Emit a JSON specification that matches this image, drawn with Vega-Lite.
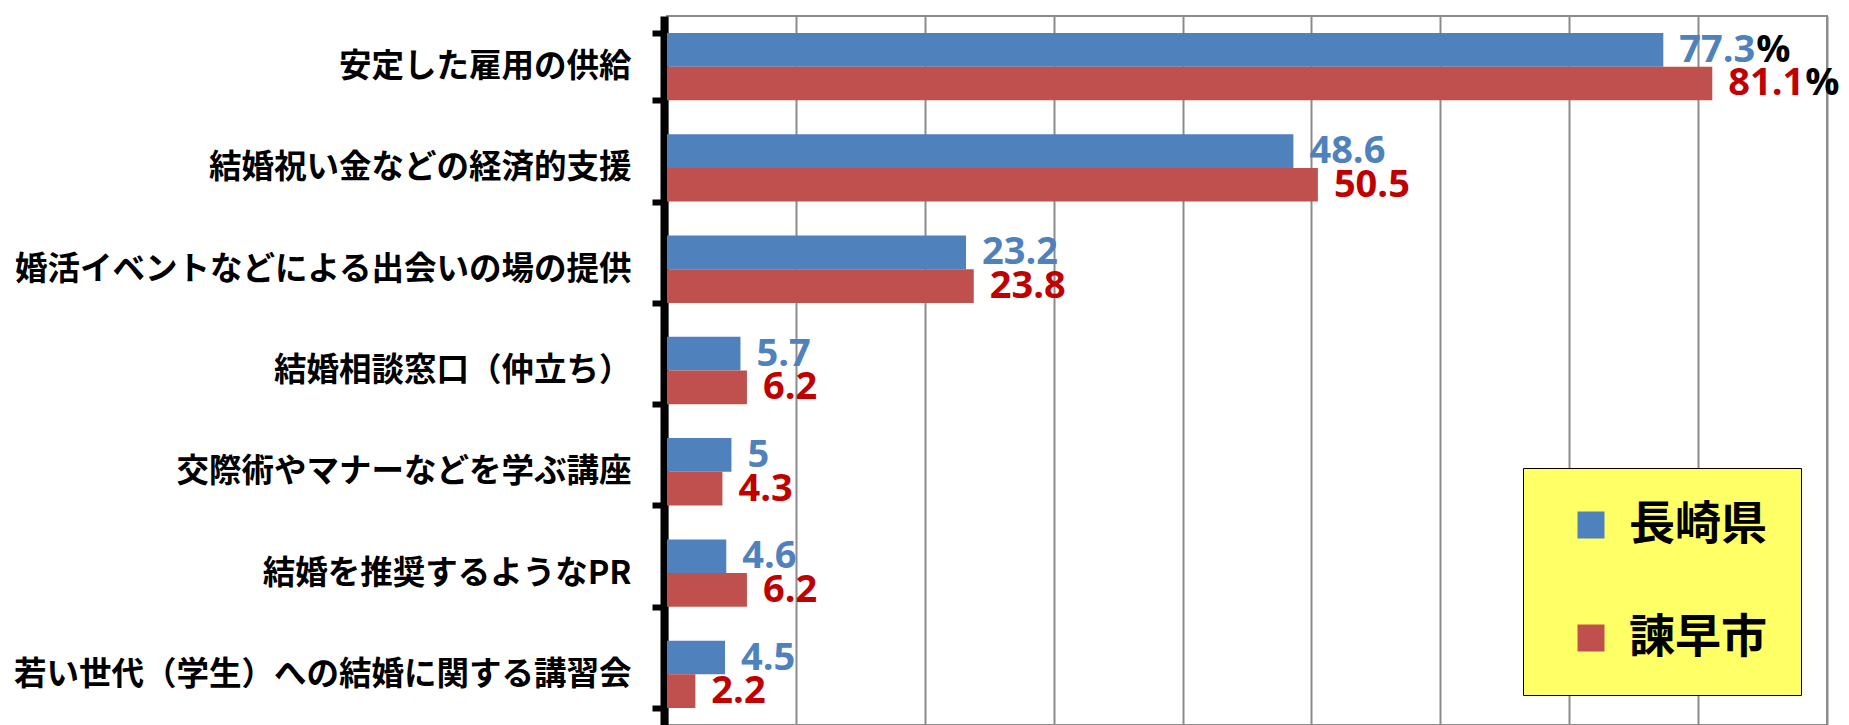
{
  "$schema": "https://vega.github.io/schema/vega-lite/v6.json",
  "autosize": {"type": "none"},
  "padding": {"left": 667, "top": 16, "right": 22, "bottom": 0},
  "width": 1160,
  "height": 709,
  "background": "white",
  "config": {
    "view": {"stroke": "#8c8c8c", "strokeWidth": 2},
    "font": "Noto Sans CJK JP"
  },
  "data": {
    "values": [
      {"item": "安定した雇用の供給", "region": "長崎県", "value": 77.3},
      {"item": "安定した雇用の供給", "region": "諫早市", "value": 81.1},
      {"item": "結婚祝い金などの経済的支援", "region": "長崎県", "value": 48.6},
      {"item": "結婚祝い金などの経済的支援", "region": "諫早市", "value": 50.5},
      {"item": "婚活イベントなどによる出会いの場の提供", "region": "長崎県", "value": 23.2},
      {"item": "婚活イベントなどによる出会いの場の提供", "region": "諫早市", "value": 23.8},
      {"item": "結婚相談窓口（仲立ち）", "region": "長崎県", "value": 5.7},
      {"item": "結婚相談窓口（仲立ち）", "region": "諫早市", "value": 6.2},
      {"item": "交際術やマナーなどを学ぶ講座", "region": "長崎県", "value": 5},
      {"item": "交際術やマナーなどを学ぶ講座", "region": "諫早市", "value": 4.3},
      {"item": "結婚を推奨するようなPR", "region": "長崎県", "value": 4.6},
      {"item": "結婚を推奨するようなPR", "region": "諫早市", "value": 6.2},
      {"item": "若い世代（学生）への結婚に関する講習会", "region": "長崎県", "value": 4.5},
      {"item": "若い世代（学生）への結婚に関する講習会", "region": "諫早市", "value": 2.2}
    ]
  },
  "encoding": {
    "y": {
      "field": "item",
      "type": "nominal",
      "sort": null,
      "title": null,
      "scale": {"paddingInner": 0.335, "paddingOuter": 0.1675},
      "axis": {
        "domainColor": "black",
        "domainWidth": 8,
        "offset": 3,
        "ticks": true,
        "tickBand": "extent",
        "tickColor": "black",
        "tickWidth": 6,
        "tickSize": 12,
        "labelPadding": 21,
        "labelFont": "Noto Sans CJK JP",
        "labelFontWeight": "bold",
        "labelFontSize": 32.5,
        "labelColor": "black",
        "labelLimit": 0,
        "grid": false
      }
    },
    "yOffset": {"field": "region", "type": "nominal", "sort": ["長崎県", "諫早市"], "scale": {"paddingInner": 0, "paddingOuter": 0}},
    "x": {
      "field": "value",
      "type": "quantitative",
      "title": null,
      "scale": {"domain": [0, 90], "nice": false},
      "axis": {
        "values": [0, 10, 20, 30, 40, 50, 60, 70, 80, 90],
        "labels": false,
        "ticks": false,
        "domain": false,
        "grid": true,
        "gridColor": "#8c8c8c",
        "gridWidth": 2
      }
    }
  },
  "layer": [
    {
      "mark": {"type": "bar"},
      "encoding": {
        "color": {
          "field": "region",
          "type": "nominal",
          "sort": ["長崎県", "諫早市"],
          "scale": {"domain": ["長崎県", "諫早市"], "range": ["#4F81BD", "#C0504D"]},
          "legend": {
            "title": null,
            "orient": "none",
            "legendX": 856,
            "legendY": 452,
            "direction": "vertical",
            "fillColor": "#FFFF66",
            "strokeColor": "black",
            "padding": 34,
            "symbolOffset": 11,
            "symbolType": "square",
            "symbolSize": 729,
            "symbolStrokeWidth": 0,
            "labelFont": "Noto Sans CJK JP",
            "labelFontWeight": "bold",
            "labelFontSize": 46,
            "labelColor": "black",
            "labelOffset": 15,
            "rowPadding": 67
          }
        }
      }
    },
    {
      "mark": {"type": "text", "align": "left", "baseline": "middle", "dx": 16, "dy": 1, "font": "Open Sans", "fontWeight": "bold", "fontSize": 38},
      "encoding": {
        "text": {"field": "value", "type": "quantitative"},
        "color": {
          "field": "region",
          "type": "nominal",
          "scale": {"domain": ["長崎県", "諫早市"], "range": ["#4F81BD", "#C00000"]},
          "legend": null
        }
      }
    },
    {
      "transform": [{"filter": "datum.item === '安定した雇用の供給'"}],
      "mark": {"type": "text", "align": "left", "baseline": "middle", "dx": 93, "dy": 1, "font": "Open Sans", "fontWeight": "bold", "fontSize": 38, "color": "black", "text": "%"},
      "encoding": {}
    }
  ],
  "resolve": {"scale": {"color": "independent"}}
}
